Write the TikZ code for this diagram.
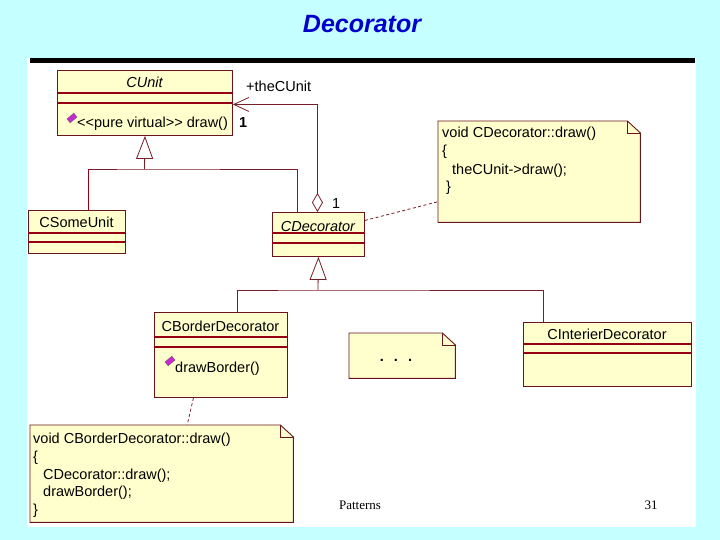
\documentclass[tikz,border=0pt]{standalone}
\usepackage{fontspec}
\setmainfont{Liberation Sans}
\newfontfamily\serifff{Liberation Serif}
\usetikzlibrary{arrows.meta,shapes.geometric,calc}
\definecolor{bgcyan}{RGB}{198,255,255}
\definecolor{boxfill}{RGB}{255,255,206}
\definecolor{boxline}{RGB}{105,20,30}
\definecolor{sepline}{RGB}{150,0,20}
\definecolor{titleblue}{RGB}{0,0,205}
\definecolor{conncol}{RGB}{120,30,40}
\definecolor{iconfill}{RGB}{200,40,210}
\newcommand\drawnote[1]{%
  \draw[noteline] (#1.north west) -- ([xshift=-13pt]#1.north east) -- ([yshift=-12pt]#1.north east) -- (#1.south east) -- (#1.south west) -- cycle;
  \draw[noteline, fill=none] ([xshift=-13pt]#1.north east) |- ([yshift=-12pt]#1.north east);
}
\begin{document}
\begin{tikzpicture}[x=1pt,y=-1pt,
  classbox/.style={draw=boxline, fill=boxfill, line width=0.9pt, rectangle, anchor=north west, inner sep=0pt},
  sep/.style={draw=sepline, line width=1.6pt},
  notegeom/.style={rectangle, anchor=north west, inner sep=0pt},
  noteline/.style={draw=boxline, line width=0.9pt, fill=boxfill},
  uml/.style={font=\fontsize{14.5}{16}\selectfont, inner sep=0pt},
  umlit/.style={font=\fontsize{14.5}{16}\selectfont\itshape, inner sep=0pt},
  umlbf/.style={font=\fontsize{14.5}{16}\selectfont\bfseries, inner sep=0pt},
  conn/.style={draw=conncol, line width=0.8pt},
  inherit/.style={conn, -{Triangle[open, length=23pt, width=17pt]}},
  dashconn/.style={draw=conncol, line width=0.8pt, dash pattern=on 3pt off 2.5pt},
  icon/.style={rectangle, draw=black!60, line width=0.4pt, fill=iconfill, minimum width=9pt, minimum height=5pt, inner sep=0pt, rotate=40}
]
\useasboundingbox (0,0) rectangle (720,540);
\fill[bgcyan] (0,0) rectangle (720,540);
\fill[white] (27,58) rectangle (696,527);
\fill[black] (30,58) rectangle (695,63);

% title
\node[anchor=base, inner sep=0pt, text=titleblue, font=\fontsize{25}{28}\selectfont\bfseries\itshape] (title) at (362,33) {Decorator};

% CUnit
\node[classbox, minimum width=175pt, minimum height=65pt] (cunit) at (57,70) {};
\draw[sep] ([yshift=-23pt]cunit.north west) -- ([yshift=-23pt]cunit.north east);
\draw[sep] ([yshift=-33pt]cunit.north west) -- ([yshift=-33pt]cunit.north east);
\node[umlit, anchor=base] (cunitname) at (144.5,88) {CUnit};
\node[icon] (cuicon) at (72,118) {};
\node[uml, anchor=base west] (cumeth) at (77,128) {<\kern0pt<pure virtual>\kern0pt> draw()};
\node[umlbf, anchor=base west] (mult1) at (239,128) {1};

% CSomeUnit
\node[classbox, minimum width=97pt, minimum height=43pt] (csome) at (28,210) {};
\draw[sep] ([yshift=-23pt]csome.north west) -- ([yshift=-23pt]csome.north east);
\draw[sep] ([yshift=-32pt]csome.north west) -- ([yshift=-32pt]csome.north east);
\node[uml, anchor=base] (csomename) at (76.5,228) {CSomeUnit};

% CDecorator
\node[classbox, minimum width=92pt, minimum height=44pt] (cdec) at (272,212) {};
\draw[sep] ([yshift=-21pt]cdec.north west) -- ([yshift=-21pt]cdec.north east);
\draw[sep] ([yshift=-31pt]cdec.north west) -- ([yshift=-31pt]cdec.north east);
\node[umlit, anchor=base] (cdecname) at (318,231) {CDecorator};

% CBorderDecorator
\node[classbox, minimum width=133pt, minimum height=85pt] (cborder) at (154,312) {};
\draw[sep] ([yshift=-25pt]cborder.north west) -- ([yshift=-25pt]cborder.north east);
\draw[sep] ([yshift=-35pt]cborder.north west) -- ([yshift=-35pt]cborder.north east);
\node[uml, anchor=base] (cbordername) at (220.5,331) {CBorderDecorator};
\node[icon] (cbicon) at (170,361) {};
\node[uml, anchor=base west] (cbmeth) at (175,372) {drawBorder()};

% CInterierDecorator
\node[classbox, minimum width=168pt, minimum height=64pt] (cint) at (523,322) {};
\draw[sep] ([yshift=-22pt]cint.north west) -- ([yshift=-22pt]cint.north east);
\draw[sep] ([yshift=-31pt]cint.north west) -- ([yshift=-31pt]cint.north east);
\node[uml, anchor=base] (cintname) at (607,339) {CInterierDecorator};

% notes
\node[notegeom, minimum width=202pt, minimum height=101pt] (note1) at (438,121) {};
\drawnote{note1}
\node[uml, anchor=base west] (n1a) at (442,138) {void CDecorator::draw()};
\node[uml, anchor=base west] (n1b) at (442,156) {\{};
\node[uml, anchor=base west] (n1c) at (452,175) {theCUnit-\kern0pt>draw();};
\node[uml, anchor=base west] (n1d) at (446,192) {\}};

\node[notegeom, minimum width=106pt, minimum height=45pt] (note3) at (349,333) {};
\drawnote{note3}
\node[umlbf, anchor=base] (dots) at (396,361) {.\hspace{10pt}.\hspace{10pt}.};

\node[notegeom, minimum width=263pt, minimum height=97pt] (note2) at (30,425) {};
\drawnote{note2}
\node[uml, anchor=base west] (n2a) at (33,443) {void CBorderDecorator::draw()};
\node[uml, anchor=base west] (n2b) at (33,461) {\{};
\node[uml, anchor=base west] (n2c) at (43,479) {CDecorator::draw();};
\node[uml, anchor=base west] (n2d) at (43,496) {drawBorder();};
\node[uml, anchor=base west] (n2e) at (33,514) {\}};

% generalization 1
\coordinate (j1) at (144.5,169);
\draw[inherit] (j1) -- (cunit.south);
\draw[conn] ([xshift=11.5pt]csome.north) |- (j1) -| ([xshift=-21pt]cdec.north);
\draw[conn, draw=sepline, line width=1.8pt] ([xshift=11.5pt]csome.north) -- ([xshift=11.5pt]csome.north |- j1);

% generalization 2
\coordinate (j2) at (318,290);
\draw[inherit] (j2) -- (cdec.south);
\draw[conn] ([xshift=16.5pt]cborder.north) |- (j2) -| ([xshift=-64pt]cint.north);

% aggregation
\draw[conn, {Diamond[open, length=19pt, width=11pt]}-{Straight Barb[length=15pt, width=14pt]}] ([xshift=-1pt]cdec.north) |- ([yshift=-1.5pt]cunit.east);
\node[uml, anchor=base west] (rolename) at (246,92) {+theCUnit};
\node[uml, anchor=base west] (mult2) at (332,208) {1};

% note links
\draw[dashconn] ([yshift=14pt]cdec.east) -- ([yshift=-30pt]note1.west);
\draw[dashconn] ([xshift=-27.5pt]cborder.south) -- ([xshift=25.5pt]note2.north);

% footer
\node[anchor=base, inner sep=0pt, font=\serifff\fontsize{13}{15}\selectfont] (foot) at (360,509) {Patterns};
\node[anchor=base, inner sep=0pt, font=\serifff\fontsize{13}{15}\selectfont] (page) at (651,509) {31};
\end{tikzpicture}
\end{document}
